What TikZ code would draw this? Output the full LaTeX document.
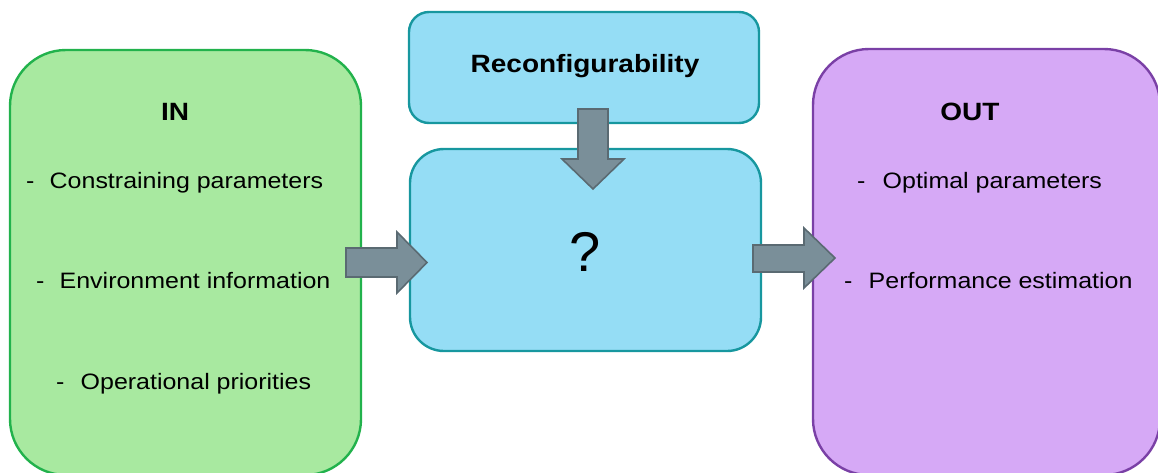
\documentclass[tikz,border=0pt]{standalone}
\usepackage{fontspec}
\setmainfont{Liberation Sans}
\definecolor{ingreen}{HTML}{A8E9A0}
\definecolor{ingreenD}{HTML}{22B24C}
\definecolor{midblue}{HTML}{95DDF5}
\definecolor{midblueD}{HTML}{17979F}
\definecolor{outpurple}{HTML}{D6A9F6}
\definecolor{outpurpleD}{HTML}{7A40A6}
\definecolor{arrfill}{HTML}{7A8F99}
\definecolor{arrdraw}{HTML}{5A6A72}
\newcommand\wide[1]{\scalebox{1.12}[1]{#1}}
\begin{document}
\begin{tikzpicture}[x=1pt,y=-1pt,
  box/.style={draw, line width=2.4pt, inner sep=0pt},
  inbox/.style={box, fill=ingreen, draw=ingreenD, rounded corners=56pt},
  outbox/.style={box, fill=outpurple, draw=outpurpleD, rounded corners=56pt},
  bluebox/.style={box, fill=midblue, draw=midblueD},
  blockarrow/.style={fill=arrfill, draw=arrdraw, line width=1.6pt, line join=miter},
  title/.style={inner sep=0pt, anchor=base, font=\fontsize{25}{30}\selectfont\bfseries},
  item/.style={inner sep=0pt, anchor=base west, font=\fontsize{22.3}{26}\selectfont},
]
\useasboundingbox (0,0) rectangle (1158,472);
\clip (0,0) rectangle (1158,472);
% boxes
\node[inbox, minimum width=351pt, minimum height=425pt] (in) at (185.5,262.5) {};
\node[outbox, minimum width=347pt, minimum height=426pt] (out) at (986.5,262) {};
\node[bluebox, rounded corners=20pt, minimum width=350pt, minimum height=111pt] (reconf) at (584,67.5) {};
\node[bluebox, rounded corners=34pt, minimum width=351pt, minimum height=202pt] (mid) at (585.5,250) {};
% texts
\node[title] (intitle) at (175,120) {\wide{IN}};
\node[title] (outtitle) at (970,120) {\wide{OUT}};
\node[title] (rtitle) at (585,72) {\wide{Reconfigurability}};
\node[inner sep=0pt, anchor=base, font=\fontsize{56}{60}\selectfont] (q) at (585,271) {?};
\node[item] (d1) at (26,188) {\wide{-}};
\node[item] (i1) at (49.5,188) {\wide{Constraining parameters}};
\node[item] (d2) at (36,288) {\wide{-}};
\node[item] (i2) at (59.5,288) {\wide{Environment information}};
\node[item] (d3) at (56,389) {\wide{-}};
\node[item] (i3) at (80.5,389) {\wide{Operational priorities}};
\node[item] (d4) at (857,188) {\wide{-}};
\node[item] (o1) at (882.5,188) {\wide{Optimal parameters}};
\node[item] (d5) at (844,288) {\wide{-}};
\node[item] (o2) at (868.5,288) {\wide{Performance estimation}};
% block arrows
\draw[blockarrow] (346,248) -- (397,248) -- (397,232) -- (427,262.5) -- (397,293) -- (397,277) -- (346,277) -- cycle;
\draw[blockarrow] (753,245) -- (804,245) -- (804,228) -- (835,258) -- (804,288) -- (804,272) -- (753,272) -- cycle;
\draw[blockarrow] (578,109) -- (608,109) -- (608,159) -- (624,159) -- (593,189) -- (562,159) -- (578,159) -- cycle;
\end{tikzpicture}
\end{document}
